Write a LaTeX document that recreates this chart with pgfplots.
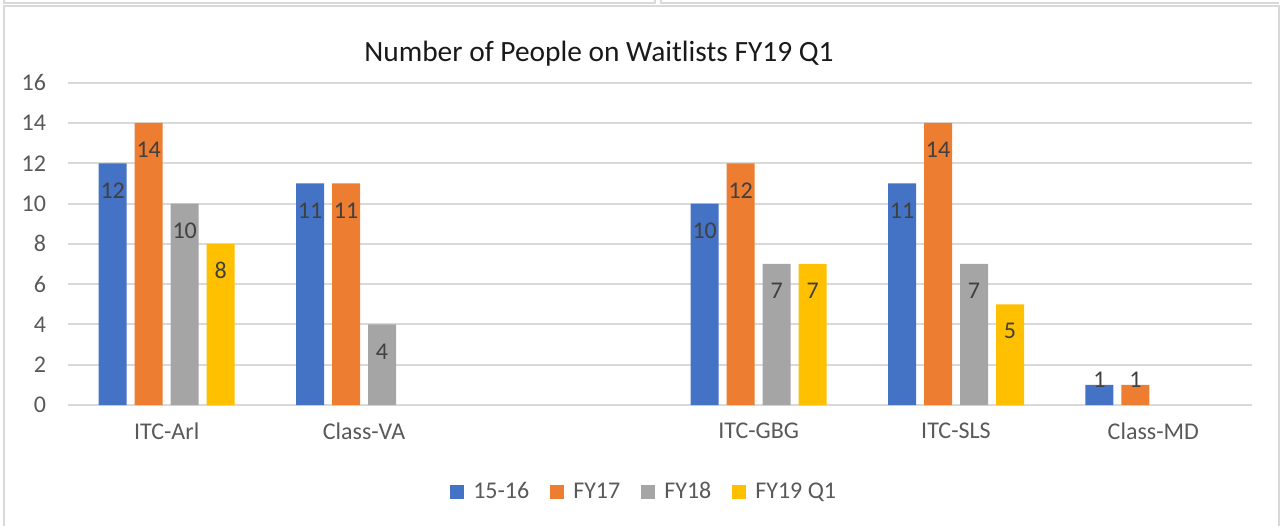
\documentclass[border=0pt]{standalone}
\usepackage{fontspec}
\setmainfont{Carlito}
\usepackage{pgfplots}
\pgfplotsset{compat=1.18}
\definecolor{cBlue}{HTML}{4472C4}
\definecolor{cOrange}{HTML}{ED7D31}
\definecolor{cGray}{HTML}{A5A5A5}
\definecolor{cGold}{HTML}{FFC000}
\definecolor{gridc}{HTML}{D9D9D9}
\definecolor{labc}{HTML}{595959}
\definecolor{dlabc}{HTML}{404040}
\definecolor{framec}{HTML}{D9D9D9}
\begin{document}
\begin{tikzpicture}
\useasboundingbox (0,0) rectangle (640pt,262.5pt);
\clip (0,0) rectangle (640pt,262.5pt);
\draw[framec, line width=1pt] (2pt,-5pt) -- (2pt,259.6pt) -- (639.4pt,259.6pt) -- (639.4pt,-5pt);
\draw[framec, line width=1pt] (2pt,262.5pt) -- (2pt,261.2pt) -- (327.5pt,261.2pt) -- (327.5pt,262.5pt);
\draw[framec, line width=1pt] (330.5pt,262.5pt) -- (330.5pt,261.2pt) -- (639.4pt,261.2pt);
\node[font=\fontsize{14.7}{17}\selectfont, text=black!90, anchor=base] at (299.5pt,231.6pt) {Number of People on Waitlists FY19 Q1};
\begin{axis}[
  at={(34pt,60pt)}, anchor=south west,
  scale only axis, width=592pt, height=161.15pt,
  ybar=4pt, bar width=14pt,
  xmin=-0.5, xmax=5.5, ymin=0, ymax=16,
  ytick={0,2,...,16},
  xtick={0,1,3,4,5},
  xticklabels={ITC-Arl,Class-VA,ITC-GBG,ITC-SLS,Class-MD},
  axis line style={draw=none},
  major tick length=0pt,
  ymajorgrids, grid style={line width=1pt, color=gridc},
  /pgf/number format/assume math mode=true,
  tick label style={font=\fontsize{12}{14}\selectfont, text=labc},
  yticklabel style={xshift=-7.5pt},
  xticklabel style={yshift=-5.5pt},
  nodes near coords,
  visualization depends on={rawy \as \rawy},
  every node near coord/.append style={font=\fontsize{12}{14}\selectfont, text=dlabc, anchor=center, yshift={(\rawy<2)*16-13.5}},
  legend columns=4,
  legend style={draw=none, fill=none, at={(0.4875,-0.27)}, anchor=center,
    font=\fontsize{12}{14}\selectfont, text=labc,
    /tikz/every odd column/.append style={column sep=2.5pt},
    /tikz/every even column/.append style={column sep=8.5pt}},
  legend cell align=left,
  legend image code/.code={\fill[#1] (0pt,-3.5pt) rectangle (7pt,3.5pt);},
]
\addplot[fill=cBlue, draw=none] coordinates {(0,12) (1,11) (3,10) (4,11) (5,1)};
\addplot[fill=cOrange, draw=none] coordinates {(0,14) (1,11) (3,12) (4,14) (5,1)};
\addplot[fill=cGray, draw=none] coordinates {(0,10) (1,4) (3,7) (4,7)};
\addplot[fill=cGold, draw=none] coordinates {(0,8) (3,7) (4,5)};
\legend{15-16,FY17,FY18,FY19 Q1}
\end{axis}
\end{tikzpicture}
\end{document}
